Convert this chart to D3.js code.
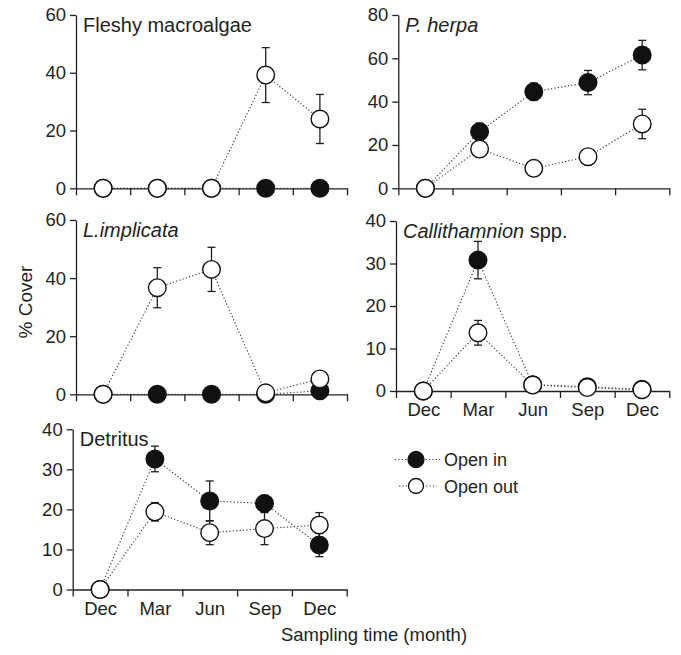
<!DOCTYPE html>
<html>
<head>
<meta charset="utf-8">
<script src="https://cdnjs.cloudflare.com/ajax/libs/d3/7.8.5/d3.min.js"></script>
<style>
    body { margin: 0; background: #fff; }
    svg text { font-family: "Liberation Sans", Arial, Helvetica, sans-serif; fill: #231f20; }
</style>
</head>
<body>
<div id="chart-area"></div>
<script>

// DATA
// =====

var months = ['Dec', 'Mar', 'Jun', 'Sep', 'Dec'];
var seriesNames = ['Open in', 'Open out'];

// Fleshy macroalgae
var fleshyIn = [0, 0, 0, 0, 0];
var fleshyInSe = [0, 0, 0, 0, 0];
var fleshyOut = [0, 0, 0, 39.2, 24.0];
var fleshyOutSe = [0, 0, 0, 9.5, 8.5];

// P. herpa
var herpaIn = [0, 26.1, 44.6, 48.8, 61.5];
var herpaInSe = [0, 4.0, 4.0, 5.6, 6.8];
var herpaOut = [0, 18.1, 9.2, 14.6, 29.7];
var herpaOutSe = [0, 3.5, 0, 0, 6.8];

// L. implicata
var implicataIn = [0, 0, 0, 0, 1.2];
var implicataInSe = [0, 0, 0, 0, 0];
var implicataOut = [0, 36.7, 43.0, 0.5, 5.3];
var implicataOutSe = [0, 6.9, 7.6, 0, 0];

// Callithamnion spp.
var calliIn = [0, 30.8, 1.5, 1.0, 0.4];
var calliInSe = [0, 4.4, 0, 0, 0];
var calliOut = [0, 13.7, 1.4, 0.8, 0.3];
var calliOutSe = [0, 2.9, 0, 0, 0];

// Detritus
var detritusIn = [0, 32.6, 22.1, 21.5, 11.1];
var detritusInSe = [0, 3.2, 5.0, 2.0, 2.9];
var detritusOut = [0, 19.4, 14.2, 15.2, 16.1];
var detritusOutSe = [0, 2.3, 3.0, 4.0, 3.1];


// PANELS
// =======

var panels = [
    { title: 'Fleshy macroalgae', italic: false, ymax: 60, step: 20,
      x0: 76, x1: 347, y0: 15, y1: 188.3, labels: false,
      inV: fleshyIn, inSe: fleshyInSe, outV: fleshyOut, outSe: fleshyOutSe },
    { title: 'P. herpa', italic: true, ymax: 80, step: 20,
      x0: 398.3, x1: 669.3, y0: 15, y1: 188.3, labels: false,
      inV: herpaIn, inSe: herpaInSe, outV: herpaOut, outSe: herpaOutSe },
    { title: 'L.implicata', italic: true, ymax: 60, step: 20,
      x0: 76, x1: 347, y0: 220, y1: 394.3, labels: false,
      inV: implicataIn, inSe: implicataInSe, outV: implicataOut, outSe: implicataOutSe },
    { title: 'Callithamnion', suffix: ' spp.', italic: true, ymax: 40, step: 10,
      x0: 396, x1: 669.3, y0: 221, y1: 391, labels: true,
      inV: calliIn, inSe: calliInSe, outV: calliOut, outSe: calliOutSe },
    { title: 'Detritus', italic: false, ymax: 40, step: 10,
      x0: 72.7, x1: 346.7, y0: 429.3, y1: 589.5, labels: true,
      inV: detritusIn, inSe: detritusInSe, outV: detritusOut, outSe: detritusOutSe }
];

var svg = d3.select('#chart-area')
    .append('svg')
        .attr('width', 681)
        .attr('height', 655);

var R = 8.8;
var dots = '1.2,2.2';

panels.forEach(function(p) {
    var x, y, g, yAxisCall, xAxisCall, series;

    x = d3.scaleLinear().domain([0, months.length]).range([p.x0, p.x1]);
    y = d3.scaleLinear().domain([0, p.ymax]).range([p.y1, p.y0]);

    g = svg.append('g');

    // axes
    yAxisCall = d3.axisLeft(y)
        .tickValues(d3.range(0, p.ymax + 1, p.step))
        .tickSize(6)
        .tickSizeOuter(0)
        .tickPadding(4);
    g.append('g')
        .attr('class', 'y axis')
        .attr('transform', 'translate(' + p.x0 + ',0)')
        .call(yAxisCall);

    xAxisCall = d3.axisBottom(x)
        .tickValues(d3.range(0, months.length + 1))
        .tickSize(7)
        .tickSizeOuter(0)
        .tickFormat('');
    g.append('g')
        .attr('class', 'x axis')
        .attr('transform', 'translate(0,' + p.y1 + ')')
        .call(xAxisCall);

    if (p.labels) {
        g.append('g')
            .attr('transform', 'translate(0,' + p.y1 + ')')
            .call(d3.axisBottom(x)
                .tickValues(d3.range(months.length).map(function(i) { return i + 0.5; }))
                .tickSize(0)
                .tickPadding(12)
                .tickFormat(function(d) { return months[Math.floor(d)]; }))
            .call(function(a) { a.select('.domain').remove(); });
    }

    g.selectAll('.axis path, .axis line')
        .attr('stroke', '#231f20')
        .attr('stroke-width', 1.3);
    g.selectAll('.tick text')
        .style('font-size', '18.5px')
        .style('fill', '#231f20');

    // title
    var t = g.append('text')
        .attr('x', p.x0 + 7)
        .attr('y', p.y0 + 17)
        .attr('font-size', '20px');
    t.append('tspan')
        .attr('font-style', p.italic ? 'italic' : 'normal')
        .text(p.title);
    if (p.suffix) {
        t.append('tspan').text(p.suffix);
    }

    series = [
        { v: p.inV, se: p.inSe, fill: '#111' },
        { v: p.outV, se: p.outSe, fill: '#fff' }
    ];

    // dotted lines
    series.forEach(function(s) {
        g.append('path')
            .datum(s.v)
            .attr('fill', 'none')
            .attr('stroke', '#333')
            .attr('stroke-width', 1.1)
            .attr('stroke-dasharray', dots)
            .attr('d', d3.line()
                .x(function(d, i) { return x(i + 0.5); })
                .y(function(d) { return y(d); }));
    });

    // error bars
    series.forEach(function(s) {
        var eb = g.selectAll(null)
            .data(s.v.map(function(d, i) { return { i: i, v: d, se: s.se[i] }; })
                .filter(function(d) { return d.se > 0; }))
            .enter()
            .append('g')
            .attr('stroke', '#231f20')
            .attr('stroke-width', 1.3);
        eb.append('line')
            .attr('x1', function(d) { return x(d.i + 0.5); })
            .attr('x2', function(d) { return x(d.i + 0.5); })
            .attr('y1', function(d) { return y(d.v - d.se); })
            .attr('y2', function(d) { return y(d.v + d.se); });
        [-1, 1].forEach(function(k) {
            eb.append('line')
                .attr('x1', function(d) { return x(d.i + 0.5) - 4; })
                .attr('x2', function(d) { return x(d.i + 0.5) + 4; })
                .attr('y1', function(d) { return y(d.v + k * d.se); })
                .attr('y2', function(d) { return y(d.v + k * d.se); });
        });
    });

    // markers
    series.forEach(function(s) {
        g.selectAll(null)
            .data(s.v)
            .enter()
            .append('circle')
            .attr('cx', function(d, i) { return x(i + 0.5); })
            .attr('cy', function(d) { return y(d); })
            .attr('r', R)
            .attr('fill', s.fill)
            .attr('stroke', '#111')
            .attr('stroke-width', 1.4);
    });
});


// LABELS
// =======

svg.append('text')
    .attr('x', 374)
    .attr('y', 641)
    .attr('font-size', '18.5px')
    .attr('text-anchor', 'middle')
    .text('Sampling time (month)');

svg.append('text')
    .attr('x', -302)
    .attr('y', 32)
    .attr('font-size', '19px')
    .attr('text-anchor', 'middle')
    .attr('transform', 'rotate(-90)')
    .text('% Cover');


// LEGEND
// =======

var legend = svg.append('g');
var legendItems = [
    { name: seriesNames[0], fill: '#111', y: 459.5, xa: 395, xb: 440 },
    { name: seriesNames[1], fill: '#fff', y: 486, xa: 399, xb: 437 }
];

legendItems.forEach(function(d) {
    legend.append('line')
        .attr('x1', d.xa)
        .attr('x2', d.xb)
        .attr('y1', d.y)
        .attr('y2', d.y)
        .attr('stroke', '#333')
        .attr('stroke-width', 1.1)
        .attr('stroke-dasharray', dots);
    legend.append('circle')
        .attr('cx', 416)
        .attr('cy', d.y)
        .attr('r', d.fill === '#fff' ? 7.5 : 8)
        .attr('fill', d.fill)
        .attr('stroke', '#111')
        .attr('stroke-width', 1.3);
    legend.append('text')
        .attr('x', 444)
        .attr('y', d.y + 6.5)
        .attr('font-size', '18px')
        .text(d.name);
});

</script>
</body>
</html>
